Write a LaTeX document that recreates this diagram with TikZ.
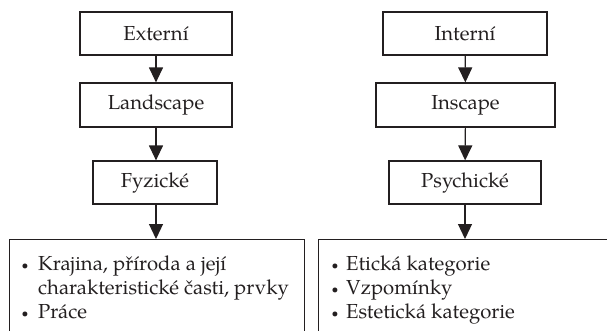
\documentclass[tikz,border=0pt]{standalone}
\usepackage{fontspec}
\setmainfont{TeX Gyre Pagella}
\usetikzlibrary{arrows.meta}
\definecolor{ink}{RGB}{35,31,32}
\tikzset{
  box/.style={draw=ink, line width=1.2pt, rectangle, inner sep=0pt, text=ink,
    font=\fontsize{20.3}{24}\selectfont},
  arr/.style={draw=ink, line width=1.2pt, -{Triangle[width=14pt,length=15pt]}},
  itemline/.style={anchor=base west, inner sep=0pt, text=ink, font=\fontsize{20.3}{24}\selectfont},
  bul/.style={anchor=base, inner sep=0pt, text=ink, font=\fontsize{20.3}{24}\selectfont}
}
\begin{document}
\begin{tikzpicture}[x=1pt,y=-1pt]
\useasboundingbox (0,0) rectangle (607,330);
\clip (0,0) rectangle (607,330);
% left column
\node[box, minimum width=152pt, minimum height=43pt] (ext) at (156,33.5) {Externí};
\node[box, minimum width=152pt, minimum height=44pt] (land) at (156,105) {Landscape};
\node[box, minimum width=124pt, minimum height=43pt] (fyz) at (155,182.5) {Fyzické};
\node[box, minimum width=295pt, minimum height=120pt, anchor=north west] (lb) at (9,239) {};
% right column
\node[box, minimum width=164pt, minimum height=43pt] (int) at (465,33.5) {Interní};
\node[box, minimum width=179pt, minimum height=44pt] (insc) at (465.5,105) {Inscape};
\node[box, minimum width=152pt, minimum height=43pt] (psy) at (465,182.5) {Psychické};
\node[box, minimum width=310pt, minimum height=120pt, anchor=north west] (rb) at (317.5,239) {};
% arrows
\draw[arr] (ext.south -| 156,0) -- (land.north -| 156,0);
\draw[arr] (land.south -| 156,0) -- (fyz.north -| 156,0);
\draw[arr] (fyz.south -| 156,0) -- (lb.north -| 156,0);
\draw[arr] (int) -- (insc);
\draw[arr] (insc) -- (psy);
\draw[arr] (psy.south) -- (psy.south |- rb.north);
% left list
\node[bul] (lb1) at (25,270) {\raisebox{1pt}{\scalebox{0.6}{•}}};
\node[itemline] (lt1) at (38,270) {Krajina, příroda a její};
\node[itemline] (lt2) at (38,294) {charakteristické časti, prvky};
\node[bul] (lb2) at (25,318) {\raisebox{1pt}{\scalebox{0.6}{•}}};
\node[itemline] (lt3) at (38,318) {Práce};
% right list
\node[bul] (rb1) at (335,270) {\raisebox{1pt}{\scalebox{0.6}{•}}};
\node[itemline] (rt1) at (346,270) {Etická kategorie};
\node[bul] (rb2) at (335,294) {\raisebox{1pt}{\scalebox{0.6}{•}}};
\node[itemline] (rt2) at (346,294) {Vzpomínky};
\node[bul] (rb3) at (335,318) {\raisebox{1pt}{\scalebox{0.6}{•}}};
\node[itemline] (rt3) at (346,318) {Estetická kategorie};
\end{tikzpicture}
\end{document}
